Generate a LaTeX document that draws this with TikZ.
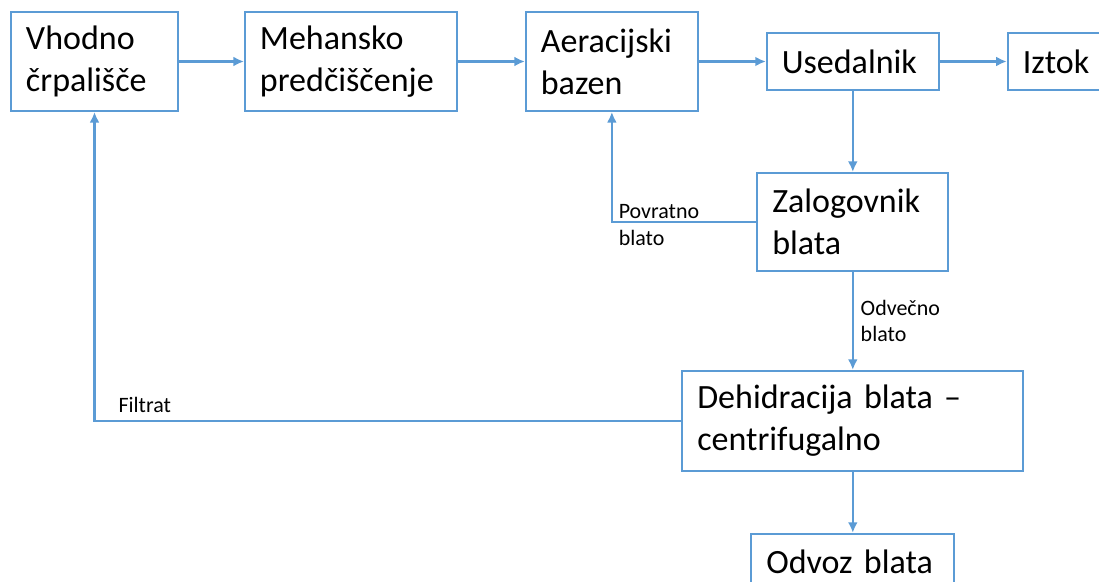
\documentclass[tikz,border=0pt]{standalone}
\usepackage{fontspec}
\setmainfont{Carlito}
\usetikzlibrary{arrows.meta,positioning}
\definecolor{flowblue}{RGB}{91,155,213}
\tikzstyle{flow} = [draw, line width=1.2pt, color=flowblue, -{Latex[length=6pt,width=5.6pt]}]
\tikzstyle{note} = [font=\fontsize{12.5}{15.2}\selectfont, align=left, text=black]

\begin{document}
\begin{tikzpicture}[line width=1.1pt]
\tikzset{stage/.style={rectangle, draw=flowblue, align=left, inner xsep=0.3cm, minimum height=1.98cm, font=\fontsize{19.35}{23.7}\selectfont}}
\tikzset{stage2/.style={stage, minimum height=1.14cm}}

\useasboundingbox (0,0) rectangle (21.98,-11.64);

% top row
\node [stage, text width=2.74cm] (vh) at (1.89,-1.23) {Vhodno\\črpališče};
\node [stage, right=1.30cm of vh, text width=3.64cm] (me) {Mehansko\\predčiščenje};
\node [stage, right=1.34cm of me, text width=2.84cm] (ae) {Aeracijski\\bazen};
\node [stage2, right=1.34cm of ae, text width=2.84cm] (us) {Usedalnik};
\node [stage2, right=1.34cm of us, text width=1.5cm] (iz) {Iztok};

% sludge line
\node [stage, below=1.62cm of us, text width=3.22cm, minimum height=1.96cm] (za) {Zalogovnik\\blata};
\node [stage, below=1.96cm of za, text width=6.22cm, minimum height=2.0cm] (de) {Dehidracija blata --\\centrifugalno};
\node [stage2, below=1.22cm of de, text width=3.46cm] (od) {Odvoz blata};

\path [flow] (vh.east) -- (me.west);
\path [flow] (me.east) -- (ae.west);
\path [flow] (ae.east) -- (us.west);
\path [flow] (us.east) -- (iz.west);
\path [flow] (us.south) -- (za.north);
\path [flow] (za.south) -- (de.north) node[midway, note, anchor=west, xshift=0.02cm] {Odvečno\\blato};
\path [flow] (de.south) -- (od.north);

% return lines
\path [flow] (za.west) -| (ae.south) node[pos=0.5, note, anchor=west, yshift=-0.06cm] {Povratno\\blato};
\path [flow] (de.west) -| (vh.south) node[pos=0.5, note, anchor=base west, inner sep=0, xshift=0.46cm, yshift=0.16cm] {Filtrat};
\end{tikzpicture}
\end{document}
